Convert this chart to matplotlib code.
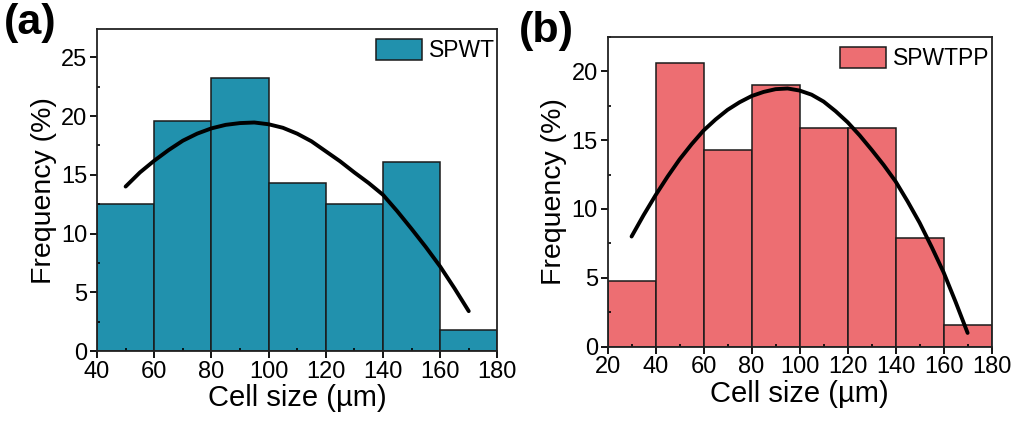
import numpy as np
from matplotlib import pyplot as plt
from matplotlib.ticker import MultipleLocator

plt.rcParams['font.family'] = ['Liberation Sans', 'DejaVu Sans']

# bin edges (µm) and bar heights (%)
edges_a = [40, 60, 80, 100, 120, 140, 160, 180]
freq_a = [12.5, 19.6, 23.2, 14.3, 12.5, 16.1, 1.8]
edges_b = [20, 40, 60, 80, 100, 120, 140, 160, 180]
freq_b = [4.8, 20.6, 14.3, 19.0, 15.9, 15.9, 7.9, 1.6]

# fitted distribution curves
fit_x_a = [50, 55, 60, 65, 70, 75, 80, 85, 90, 95, 100, 105, 110, 115, 120,
           125, 130, 135, 140, 145, 150, 155, 160, 165, 170]
fit_y_a = [14.0, 15.2, 16.2, 17.1, 17.9, 18.5, 18.95, 19.25, 19.4, 19.45, 19.3,
           19.0, 18.5, 17.85, 17.0, 16.15, 15.2, 14.3, 13.3, 11.9, 10.4, 8.85,
           7.2, 5.35, 3.4]
fit_x_b = [30, 35, 40, 45, 50, 55, 60, 65, 70, 75, 80, 85, 90, 95, 100, 105,
           110, 115, 120, 125, 130, 135, 140, 145, 150, 155, 160, 165, 170]
fit_y_b = [8.0, 9.55, 11.0, 12.35, 13.6, 14.7, 15.7, 16.5, 17.2, 17.75, 18.2,
           18.5, 18.7, 18.75, 18.6, 18.3, 17.8, 17.1, 16.3, 15.35, 14.3, 13.2,
           12.0, 10.55, 9.0, 7.25, 5.4, 3.25, 1.0]

fig = plt.figure(figsize=(10.16, 4.21), dpi=100)
ax1 = fig.add_axes([0.0955, 0.166, 0.394, 0.765])
ax2 = fig.add_axes([0.598, 0.1765, 0.378, 0.736])


def draw(ax, edges, freq, color, label, fx, fy, ylim, xmin):
    ax.bar(edges[:-1], freq, width=np.diff(edges), align='edge', color=color,
           edgecolor='#1a1a1a', linewidth=1.1, label=label)
    ax.plot(fx, fy, color='black', linewidth=2.8, solid_capstyle='round')
    ax.set_xlim(xmin, 180)
    ax.set_ylim(0, ylim)
    ax.xaxis.set_major_locator(MultipleLocator(20))
    ax.xaxis.set_minor_locator(MultipleLocator(10))
    ax.yaxis.set_major_locator(MultipleLocator(5))
    ax.yaxis.set_minor_locator(MultipleLocator(2.5))
    ax.tick_params(which='major', direction='out', length=5, width=1.3,
                   labelsize=17, pad=2)
    ax.tick_params(which='minor', direction='in', length=2.5, width=1.2)
    for s in ax.spines.values():
        s.set_linewidth(1.3)
        s.set_color('#222222')
    ax.set_xlabel('Cell size (µm)', fontsize=21, labelpad=1)
    ax.set_ylabel('Frequency (%)', fontsize=20.5, labelpad=3)
    ax.legend(loc='upper right', bbox_to_anchor=(1.02, 1.0), frameon=False,
              fontsize=16.5, handlelength=2.0, handleheight=1.0,
              handletextpad=0.3, borderaxespad=0.15, borderpad=0.3)


draw(ax1, edges_a, freq_a, '#2191ad', 'SPWT', fit_x_a, fit_y_a, 27.4, 40)
draw(ax2, edges_b, freq_b, '#ed6e72', 'SPWTPP', fit_x_b, fit_y_b, 22.5, 20)

fig.text(0.004, 0.992, '(a)', fontsize=31, fontweight='bold', va='top')
fig.text(0.511, 0.975, '(b)', fontsize=31, fontweight='bold', va='top')

plt.savefig('out.png', dpi=100)
